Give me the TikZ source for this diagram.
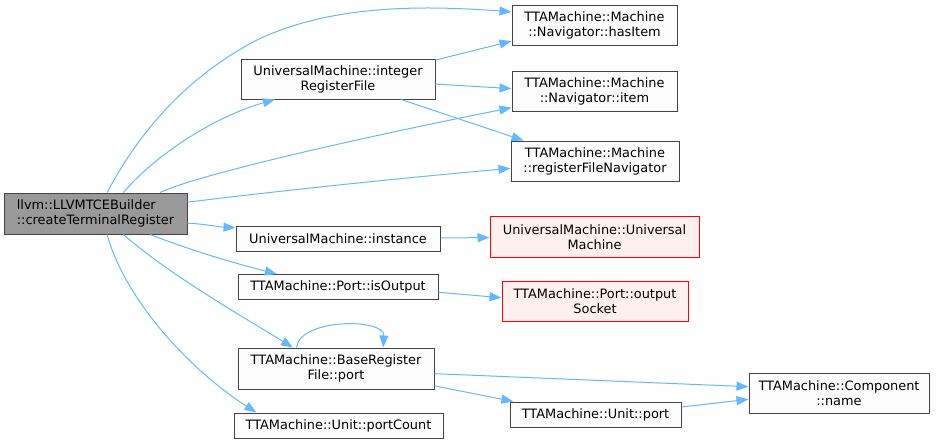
\documentclass[tikz,border=0pt]{standalone}
\usepackage{fontspec}
\setmainfont{DejaVu Sans}
\usetikzlibrary{arrows.meta}

\definecolor{callblue}{HTML}{63B8FF}
\definecolor{boxline}{HTML}{444444}
\definecolor{boxfill}{HTML}{FBFCFB}
\definecolor{rootfill}{HTML}{999999}
\definecolor{redfill}{HTML}{FFF0F0}

\tikzset{
  fn/.style={draw=boxline, fill=boxfill, line width=1pt, align=center,
    inner sep=0pt, font=\fontsize{12.9}{15}\selectfont},
  fnred/.style={fn, draw=red},
  fnred/.append style={fill=redfill},
  fnroot/.style={fn, fill=rootfill, align=left},
  call/.style={callblue, line width=1pt, -{Triangle[length=12pt,width=9pt]}},
}

\begin{document}
\begin{tikzpicture}[x=1pt,y=-1pt]
\useasboundingbox (0,0) rectangle (937,445);

\node[fnroot, minimum width=183, minimum height=41] (root) at (95.5,213.5)
  {llvm::LLVMTCEBuilder\\::createTerminalRegister};

\node[fn, minimum width=165, minimum height=40] (hasitem) at (594.5,25)
  {TTAMachine::Machine\\::Navigator::hasItem};
\node[fn, minimum width=194, minimum height=40] (intreg) at (338,79)
  {UniversalMachine::integer\\RegisterFile};
\node[fn, minimum width=165, minimum height=40] (item) at (594.5,91.5)
  {TTAMachine::Machine\\::Navigator::item};
\node[fn, minimum width=168, minimum height=40] (regnav) at (595,161)
  {TTAMachine::Machine\\::registerFileNavigator};
\node[fn, minimum width=204, minimum height=25] (instance) at (338,238.5)
  {UniversalMachine::instance};
\node[fnred, minimum width=209, minimum height=41] (umctor) at (594.5,237)
  {UniversalMachine::Universal\\Machine};
\node[fn, minimum width=200, minimum height=25] (isoutput) at (338,287)
  {TTAMachine::Port::isOutput};
\node[fnred, minimum width=186, minimum height=40] (outsocket) at (595,301)
  {TTAMachine::Port::output\\Socket};
\node[fn, minimum width=196, minimum height=41] (bport) at (336,368.5)
  {TTAMachine::BaseRegister\\File::port};
\node[fn, minimum width=209, minimum height=25] (portcount) at (338.5,425.5)
  {TTAMachine::Unit::portCount};
\node[fn, minimum width=171, minimum height=25] (unitport) at (595.5,414.5)
  {TTAMachine::Unit::port};
\node[fn, minimum width=180, minimum height=40] (compname) at (839,393)
  {TTAMachine::Component\\::name};

% calls from the root
\draw[call] (root.61) .. controls (135,140) and (180,80) .. (257,40)
                      .. controls (330,5) and (420,5) .. (hasitem.171);
\draw[call] (root.37) .. controls (160,150) and (220,115) .. (intreg.198);
\draw[call] (root.18) .. controls (185,180) and (300,150) .. (item.191);
\draw[call] (root.7) .. controls (260,193) and (400,178) .. (regnav.185);
\draw[call] (root.-6) .. controls (205,224) and (220,227) .. (instance.174);
\draw[call] (root.-21) .. controls (190,250) and (230,262) .. (isoutput.168);
\draw[call] (root.-37) .. controls (170,275) and (240,315) .. (bport.154);
\draw[call] (root.-61) .. controls (125,300) and (190,370) .. (portcount.171);

% second level
\draw[call] (intreg.11) -- (hasitem.191);
\draw[call] (intreg.-3) -- (item.178);
\draw[call] (intreg.-18) -- (regnav.164);
\draw[call] (instance) -- (umctor);
\draw[call] (isoutput.-3) -- (outsocket.178);
\draw[call] (bport.152) .. controls (300,318) and (385,318) .. (bport.24);
\draw[call] (bport.-3) -- (compname.176);
\draw[call] (bport.-10) -- (unitport.171);
\draw[call] (unitport.5) -- (compname.184);
\end{tikzpicture}
\end{document}
